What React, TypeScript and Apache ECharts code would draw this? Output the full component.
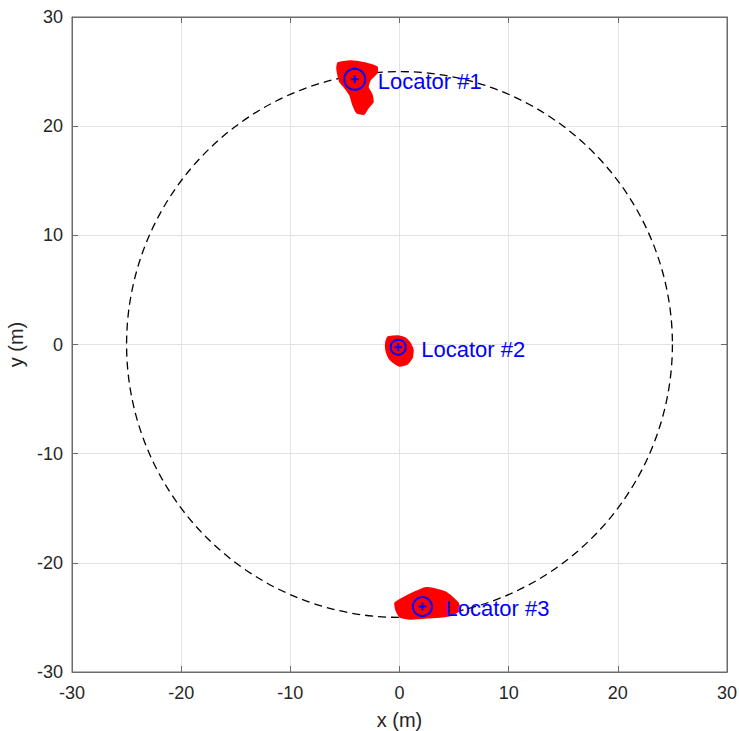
import React, { useEffect, useRef } from "react";
import * as echarts from "echarts";

// Axis ranges / ticks
const axisMin = -30;
const axisMax = 30;
const tickStep = 10;

// Boundary radius (dashed circle)
const ringRadius = 25;

// Red estimate clouds (outline points, metres)
const cloud1: [number, number][] = [
  [-5.63, 25.79], [-4.54, 25.97], [-3.16, 25.79], [-2.06, 25.42], [-2.06, 24.87],
  [-2.7, 24.23], [-2.89, 23.59], [-2.52, 22.86], [-2.43, 22.21], [-2.89, 21.66],
  [-3.25, 21.11], [-3.89, 21.21], [-4.26, 21.94], [-4.54, 22.86], [-4.99, 23.5],
  [-5.45, 24.05], [-5.63, 24.69], [-5.73, 25.33],
];
const cloud2: [number, number][] = [
  [-1.05, 0.69], [-0.14, 0.78], [0.5, 0.6], [0.96, 0.14], [1.24, -0.5],
  [1.14, -1.24], [0.69, -1.79], [0.04, -1.97], [-0.5, -1.69], [-0.96, -1.24],
  [-1.24, -0.5], [-1.24, 0.23],
];
const cloud3: [number, number][] = [
  [-0.41, -23.68], [0.5, -23.13], [1.42, -22.67], [2.34, -22.3], [3.25, -22.39],
  [4.17, -22.67], [4.81, -23.13], [5.36, -23.68], [5.54, -24.32], [4.81, -24.78],
  [3.71, -24.96], [2.34, -25.05], [0.96, -25.14], [0.04, -24.96], [-0.32, -24.32],
];
const clouds = [cloud1, cloud2, cloud3];

// Locators
const locatorNames = ["Locator #1", "Locator #2", "Locator #3"];
const locatorX = [-4.1, -0.12, 2.1];
const locatorY = [24.3, -0.25, -24.0];
const locatorRingPx = [10.5, 7.5, 9.5];

const FONT = "'Liberation Sans', Arial, Helvetica, sans-serif";

export default function App() {
  const ref = useRef<HTMLDivElement>(null);

  useEffect(() => {
    if (!ref.current) return;
    const chart = echarts.init(ref.current, undefined, { renderer: "svg" });

    const cloudSeries = clouds.map((pts, i) => ({
      type: "custom",
      name: "cloud" + (i + 1),
      coordinateSystem: "cartesian2d",
      data: [[pts[0][0], pts[0][1]]],
      z: 3,
      renderItem: (_params: any, api: any) => {
        const points = pts.map((p) => api.coord(p));
        return {
          type: "polygon",
          shape: { points, smooth: 0.15 },
          style: { fill: "#ff0000", stroke: "#ff0000", lineWidth: 1.5 },
        };
      },
    }));

    const option: any = {
      animation: false,
      backgroundColor: "#ffffff",
      grid: {
        left: 72,
        top: 17,
        width: 655,
        height: 655,
        containLabel: false,
        outerBoundsMode: "none",
        show: true,
        borderColor: "#6b6b6b",
        borderWidth: 1,
        backgroundColor: "#ffffff",
      },
      xAxis: [
        {
          type: "value",
          min: axisMin,
          max: axisMax,
          interval: tickStep,
          name: "x (m)",
          nameLocation: "middle",
          nameGap: 38,
          nameTextStyle: { fontSize: 20, color: "#262626", fontFamily: FONT },
          axisLine: { show: true, onZero: false, lineStyle: { color: "#6b6b6b" } },
          axisTick: { show: true, inside: true, length: 6, lineStyle: { color: "#6b6b6b" } },
          axisLabel: { fontSize: 18, color: "#262626", margin: 12, fontFamily: FONT },
          splitLine: { show: true, lineStyle: { color: "#e3e3e3", width: 1 } },
        },
        {
          type: "value",
          position: "top",
          min: axisMin,
          max: axisMax,
          interval: tickStep,
          axisLine: { show: true, onZero: false, lineStyle: { color: "#6b6b6b" } },
          axisTick: { show: true, inside: true, length: 6, lineStyle: { color: "#6b6b6b" } },
          axisLabel: { show: false },
          splitLine: { show: false },
        },
      ],
      yAxis: [
        {
          type: "value",
          min: axisMin,
          max: axisMax,
          interval: tickStep,
          name: "y (m)",
          nameLocation: "middle",
          nameGap: 41,
          nameTextStyle: { fontSize: 20, color: "#262626", fontFamily: FONT },
          axisLine: { show: true, onZero: false, lineStyle: { color: "#6b6b6b" } },
          axisTick: { show: true, inside: true, length: 6, lineStyle: { color: "#6b6b6b" } },
          axisLabel: { fontSize: 18, color: "#262626", margin: 9, fontFamily: FONT },
          splitLine: { show: true, lineStyle: { color: "#e3e3e3", width: 1 } },
        },
        {
          type: "value",
          position: "right",
          min: axisMin,
          max: axisMax,
          interval: tickStep,
          axisLine: { show: true, onZero: false, lineStyle: { color: "#6b6b6b" } },
          axisTick: { show: true, inside: true, length: 6, lineStyle: { color: "#6b6b6b" } },
          axisLabel: { show: false },
          splitLine: { show: false },
        },
      ],
      series: [
        {
          type: "custom",
          name: "boundary",
          coordinateSystem: "cartesian2d",
          data: [[0, 0, ringRadius]],
          z: 2,
          renderItem: (_params: any, api: any) => {
            const c = api.coord([api.value(0), api.value(1)]);
            const e = api.coord([api.value(0) + api.value(2), api.value(1)]);
            const r = e[0] - c[0];
            return {
              type: "circle",
              shape: { cx: c[0], cy: c[1], r },
              style: { fill: "none", stroke: "#000000", lineWidth: 1.3, lineDash: [8, 5] },
            };
          },
        },
        ...cloudSeries,
        {
          type: "custom",
          name: "locators",
          coordinateSystem: "cartesian2d",
          z: 5,
          data: locatorNames.map((n, i) => [locatorX[i], locatorY[i], locatorRingPx[i], n]),
          renderItem: (params: any, api: any) => {
            const c = api.coord([api.value(0), api.value(1)]);
            const r = locatorRingPx[params.dataIndex];
            const arm = 4;
            const name = locatorNames[params.dataIndex];
            return {
              type: "group",
              children: [
                {
                  type: "circle",
                  shape: { cx: c[0], cy: c[1], r },
                  style: { fill: "none", stroke: "#0000ff", lineWidth: 2 },
                },
                {
                  type: "line",
                  shape: { x1: c[0] - arm, y1: c[1], x2: c[0] + arm, y2: c[1] },
                  style: { stroke: "#0000ff", lineWidth: 2 },
                },
                {
                  type: "line",
                  shape: { x1: c[0], y1: c[1] - arm, x2: c[0], y2: c[1] + arm },
                  style: { stroke: "#0000ff", lineWidth: 2 },
                },
                {
                  type: "text",
                  x: c[0] + 23,
                  y: c[1] + 2,
                  style: {
                    text: name,
                    fill: "#0000ff",
                    fontSize: 22,
                    fontFamily: FONT,
                    textAlign: "left",
                    textVerticalAlign: "middle",
                  },
                },
              ],
            };
          },
        },
      ],
    };

    chart.setOption(option);
    return () => chart.dispose();
  }, []);

  return (
    <div
      ref={ref}
      style={{ position: "fixed", left: 0, top: 0, width: 739, height: 731, background: "#fff" }}
    />
  );
}
